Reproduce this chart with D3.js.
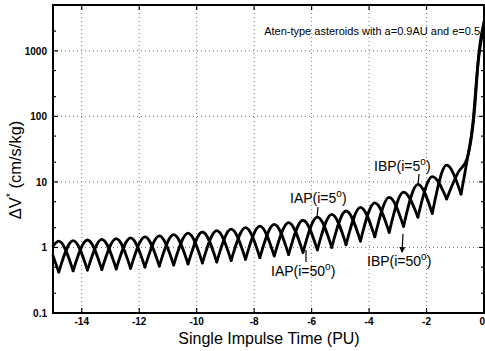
<!DOCTYPE html>
<html>
<head>
<meta charset="utf-8">
<script src="https://cdn.jsdelivr.net/npm/d3@7"></script>
<style>
  body { margin: 0; background: #fff; }
  svg { display: block; font-family: "Liberation Sans", Arial, sans-serif; }
</style>
</head>
<body>
<svg id="chart" width="485" height="351"></svg>
<script>
// curve with the first arc high at the left edge
const aT = [-15, -14.8, -14.3, -13.8, -13.3, -12.8, -12.3, -11.8, -11.3, -10.8, -10.3, -9.8, -9.3, -8.8, -8.3,
  -7.8, -7.3, -6.8, -6.3, -5.8, -5.3, -4.8, -4.3, -3.8, -3.3, -2.8, -2.3, -1.8, -1.3, -0.9, -0.6, -0.35, -0.17, 0];
const aV = [1.05, 1.25, 0.44, 1.3, 0.46, 1.36, 0.48, 1.45, 0.52, 1.57, 0.56, 1.72, 0.6, 1.9, 0.66,
  2.12, 0.74, 2.4, 0.84, 2.9, 1.0, 3.6, 1.25, 4.8, 1.7, 7.0, 2.9, 12, 5.5, 14, 22, 100, 1000, 2800];
// curve with the first cusp at the left edge
const bT = [-15, -14.8, -14.3, -13.8, -13.3, -12.8, -12.3, -11.8, -11.3, -10.8, -10.3, -9.8, -9.3, -8.8, -8.3,
  -7.8, -7.3, -6.8, -6.3, -5.8, -5.3, -4.8, -4.3, -3.8, -3.3, -2.8, -2.3, -1.8, -1.3, -0.8, -0.6, -0.4, -0.2, 0];
const bV = [0.75, 0.42, 1.27, 0.45, 1.33, 0.47, 1.4, 0.5, 1.5, 0.54, 1.65, 0.58, 1.8, 0.63, 2.0,
  0.7, 2.25, 0.78, 2.6, 0.92, 3.2, 1.1, 4.1, 1.45, 5.8, 2.1, 9.2, 3.3, 18, 6.5, 20, 70, 700, 2500];

const xTicks = [-14, -12, -10, -8, -6, -4, -2, 0];
const yTicks = [0.1, 1, 10, 100, 1000];
const yMinor = [0.2, 0.5, 2, 5, 20, 50, 200, 500, 2000];

const svg = d3.select('#chart');
const x = d3.scaleLinear().domain([-15, 0]).range([53, 484]);
const y = d3.scaleLog().domain([0.1, 5000]).range([313, 5]);

// dotted grid
const grid = svg.append('g').attr('stroke', '#777').attr('stroke-width', 1).attr('stroke-dasharray', '1,3');
grid.selectAll('.gx').data(xTicks.filter(d => d > -15 && d < 0)).enter().append('line')
  .attr('x1', d => x(d)).attr('x2', d => x(d)).attr('y1', 5).attr('y2', 313);
grid.selectAll('.gy').data(yTicks.filter(d => d > 0.1)).enter().append('line')
  .attr('x1', 53).attr('x2', 484).attr('y1', d => y(d)).attr('y2', d => y(d));

// curves: each arc is drawn between two cusps
function arcs(ts, vs) {
  const pts = ts.map((t, i) => [t, vs[i]]);
  const segs = [];
  let cur = [pts[0]];
  for (let i = 1; i < pts.length; i++) {
    cur.push(pts[i]);
    const isCusp = i < pts.length - 1 && pts[i][1] < pts[i - 1][1] && pts[i][1] < pts[i + 1][1];
    if (isCusp) { segs.push(cur); cur = [pts[i]]; }
  }
  segs.push(cur);
  return segs;
}
const line = d3.line().x(d => x(d[0])).y(d => y(d[1])).curve(d3.curveMonotoneX);
const plot = svg.append('g');
[[aT, aV, 2.8], [bT, bV, 2.8]].forEach(([ts, vs, w]) => {
  plot.selectAll(null).data(arcs(ts, vs)).enter().append('path')
    .attr('d', line).attr('fill', 'none').attr('stroke', '#000')
    .attr('stroke-width', w).attr('stroke-linejoin', 'round').attr('stroke-linecap', 'round');
});

// frame
svg.append('rect').attr('x', 53).attr('y', 5).attr('width', 431).attr('height', 308)
  .attr('fill', 'none').attr('stroke', '#000').attr('stroke-width', 2);

// ticks
const tk = svg.append('g').attr('stroke', '#000').attr('stroke-width', 1.2);
xTicks.forEach(d => {
  tk.append('line').attr('x1', x(d)).attr('x2', x(d)).attr('y1', 313).attr('y2', 308);
  tk.append('line').attr('x1', x(d)).attr('x2', x(d)).attr('y1', 5).attr('y2', 10);
});
yTicks.concat(yMinor).forEach(d => {
  const len = yTicks.includes(d) ? 5 : 3;
  tk.append('line').attr('x1', 53).attr('x2', 53 + len).attr('y1', y(d)).attr('y2', y(d));
  tk.append('line').attr('x1', 484).attr('x2', 484 - len).attr('y1', y(d)).attr('y2', y(d));
});

// tick labels
svg.append('g').selectAll('text').data(xTicks).enter().append('text')
  .attr('x', d => d === 0 ? 485 : x(d)).attr('y', 325)
  .attr('text-anchor', d => d === 0 ? 'end' : 'middle')
  .attr('font-size', 10).attr('font-weight', 'bold').text(d => d);
svg.append('g').selectAll('text').data(yTicks).enter().append('text')
  .attr('x', 47).attr('y', d => y(d) + 4).attr('text-anchor', 'end')
  .attr('font-size', 10).attr('font-weight', 'bold').text(d => d);

// titles
svg.append('text').attr('x', 480).attr('y', 35).attr('text-anchor', 'end')
  .attr('font-size', 11).text('Aten-type asteroids with a=0.9AU and e=0.5');
svg.append('text').attr('x', 269).attr('y', 344).attr('text-anchor', 'middle')
  .attr('font-size', 16).text('Single Impulse Time (PU)');
const yl = svg.append('text').attr('transform', 'translate(21,170) rotate(-90)')
  .attr('text-anchor', 'middle').attr('font-size', 16.5);
yl.append('tspan').text('ΔV');
yl.append('tspan').attr('dy', -7).attr('font-size', 11).text('*');
yl.append('tspan').attr('dy', 7).text(' (cm/s/kg)');

// curve labels
function label(px, py, main) {
  const t = svg.append('text').attr('x', px).attr('y', py).attr('font-size', 14);
  t.append('tspan').text(main);
  t.append('tspan').attr('dy', -6).attr('font-size', 10).text('o');
  t.append('tspan').attr('dy', 6).text(')');
}
label(290, 203, 'IAP(i=5');
label(374, 171, 'IBP(i=5');
label(271, 276, 'IAP(i=50');
label(367, 266, 'IBP(i=50');

// pointer lines
svg.append('defs').append('marker').attr('id', 'ah').attr('viewBox', '0 0 6 6')
  .attr('refX', 5).attr('refY', 3).attr('markerWidth', 5).attr('markerHeight', 5).attr('orient', 'auto')
  .append('path').attr('d', 'M0,0L6,3L0,6Z').attr('fill', '#000');
const ptr = svg.append('g').attr('stroke', '#000').attr('stroke-width', 1.2);
ptr.append('line').attr('x1', 318).attr('y1', 207).attr('x2', 317).attr('y2', 217);
ptr.append('line').attr('x1', 419).attr('y1', 174).attr('x2', 418).attr('y2', 185);
ptr.append('line').attr('x1', 306).attr('y1', 262).attr('x2', 306).attr('y2', 250);
ptr.append('line').attr('x1', 403).attr('y1', 234).attr('x2', 402).attr('y2', 252).attr('marker-end', 'url(#ah)');
</script>
</body>
</html>
